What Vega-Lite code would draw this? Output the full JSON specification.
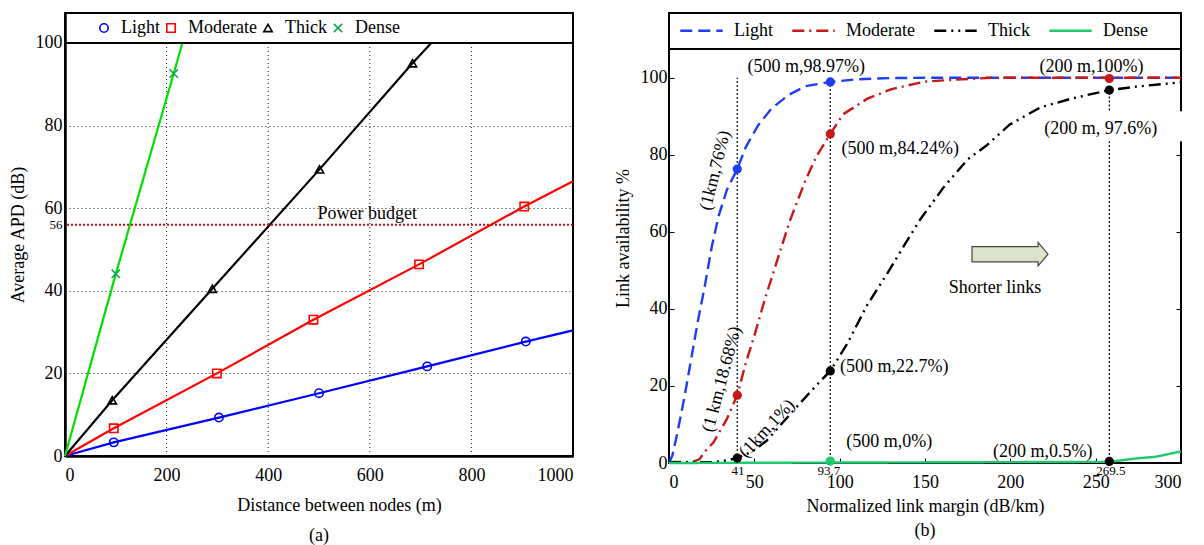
{
  "$schema": "https://vega.github.io/schema/vega-lite/v6.json",
  "padding": {"left": 8, "top": 7, "right": 0, "bottom": 0},
  "bounds": "flush",
  "spacing": 96,
  "resolve": {
    "scale": {"color": "independent", "stroke": "independent", "shape": "independent", "strokeDash": "independent"},
    "legend": {"color": "independent", "stroke": "independent", "shape": "independent", "strokeDash": "independent"}
  },
  "config": {
    "font": "Liberation Serif",
    "view": {"stroke": "black", "strokeWidth": 2},
    "axis": {"labelFont": "Liberation Serif", "labelFontSize": 18, "labelColor": "black", "titleFont": "Liberation Serif", "titleFontSize": 18, "titleFontWeight": "normal", "titleColor": "black", "tickColor": "black", "domainColor": "black", "format": "d"},
    "legend": {"labelFont": "Liberation Serif", "labelFontSize": 18, "labelColor": "black"},
    "title": {"font": "Liberation Serif", "fontSize": 18, "fontWeight": "normal", "color": "black"}
  },
  "datasets": {
    "apd": [
      {"series": "Light", "d": 0, "apd": 0, "m": 0},
      {"series": "Light", "d": 96, "apd": 3.3, "m": 1},
      {"series": "Light", "d": 303, "apd": 9.3, "m": 1},
      {"series": "Light", "d": 500, "apd": 15.2, "m": 1},
      {"series": "Light", "d": 713, "apd": 21.7, "m": 1},
      {"series": "Light", "d": 907, "apd": 27.7, "m": 1},
      {"series": "Light", "d": 1000, "apd": 30.4, "m": 0},
      {"series": "Moderate", "d": 0, "apd": 0, "m": 0},
      {"series": "Moderate", "d": 96, "apd": 6.7, "m": 1},
      {"series": "Moderate", "d": 299, "apd": 20.0, "m": 1},
      {"series": "Moderate", "d": 489, "apd": 33.0, "m": 1},
      {"series": "Moderate", "d": 697, "apd": 46.4, "m": 1},
      {"series": "Moderate", "d": 904, "apd": 60.4, "m": 1},
      {"series": "Moderate", "d": 1000, "apd": 66.5, "m": 0},
      {"series": "Thick", "d": 0, "apd": 0, "m": 0},
      {"series": "Thick", "d": 93, "apd": 13.5, "m": 1},
      {"series": "Thick", "d": 290, "apd": 40.5, "m": 1},
      {"series": "Thick", "d": 501, "apd": 69.4, "m": 1},
      {"series": "Thick", "d": 684, "apd": 95.1, "m": 1},
      {"series": "Thick", "d": 721, "apd": 100, "m": 0},
      {"series": "Dense", "d": 0, "apd": 0, "m": 0},
      {"series": "Dense", "d": 100, "apd": 44.1, "m": 1},
      {"series": "Dense", "d": 214, "apd": 92.6, "m": 1},
      {"series": "Dense", "d": 231, "apd": 100, "m": 0}
    ],
    "xgrid": [{"d": 200}, {"d": 400}, {"d": 600}, {"d": 800}],
    "budget": [{"apd": 56, "d": 595, "ty": 58.7, "label": "Power budget"}],
    "curves": [
      {"series": "Light", "x": 0, "y": 0}, {"series": "Light", "x": 2, "y": 2}, {"series": "Light", "x": 5, "y": 8},
      {"series": "Light", "x": 9, "y": 17}, {"series": "Light", "x": 13, "y": 27}, {"series": "Light", "x": 17, "y": 37},
      {"series": "Light", "x": 21, "y": 46}, {"series": "Light", "x": 25, "y": 56}, {"series": "Light", "x": 29, "y": 64},
      {"series": "Light", "x": 34, "y": 71}, {"series": "Light", "x": 40, "y": 76.3}, {"series": "Light", "x": 45, "y": 82},
      {"series": "Light", "x": 52, "y": 87.5}, {"series": "Light", "x": 60, "y": 92}, {"series": "Light", "x": 70, "y": 95.5},
      {"series": "Light", "x": 80, "y": 97.8}, {"series": "Light", "x": 94.5, "y": 98.9}, {"series": "Light", "x": 110, "y": 99.6},
      {"series": "Light", "x": 130, "y": 99.9}, {"series": "Light", "x": 150, "y": 100}, {"series": "Light", "x": 300, "y": 100},
      {"series": "Moderate", "x": 0, "y": 0.3}, {"series": "Moderate", "x": 14, "y": 0.3}, {"series": "Moderate", "x": 18, "y": 1},
      {"series": "Moderate", "x": 21, "y": 3}, {"series": "Moderate", "x": 26, "y": 5.3}, {"series": "Moderate", "x": 34, "y": 11.5},
      {"series": "Moderate", "x": 40, "y": 17.6}, {"series": "Moderate", "x": 45, "y": 26}, {"series": "Moderate", "x": 50, "y": 33},
      {"series": "Moderate", "x": 56.5, "y": 43}, {"series": "Moderate", "x": 63, "y": 52}, {"series": "Moderate", "x": 70.5, "y": 62.5},
      {"series": "Moderate", "x": 80, "y": 73.4}, {"series": "Moderate", "x": 86.5, "y": 79.7}, {"series": "Moderate", "x": 94.5, "y": 85.4},
      {"series": "Moderate", "x": 102, "y": 90.5}, {"series": "Moderate", "x": 116, "y": 94.5}, {"series": "Moderate", "x": 130, "y": 97},
      {"series": "Moderate", "x": 150, "y": 99}, {"series": "Moderate", "x": 172, "y": 99.6}, {"series": "Moderate", "x": 190, "y": 100},
      {"series": "Moderate", "x": 300, "y": 100},
      {"series": "Thick", "x": 0, "y": 0.2}, {"series": "Thick", "x": 25, "y": 0.2}, {"series": "Thick", "x": 34, "y": 0.7},
      {"series": "Thick", "x": 40, "y": 1.3}, {"series": "Thick", "x": 49, "y": 3}, {"series": "Thick", "x": 57, "y": 5.7},
      {"series": "Thick", "x": 66, "y": 10.2}, {"series": "Thick", "x": 77, "y": 15.6}, {"series": "Thick", "x": 86, "y": 20},
      {"series": "Thick", "x": 94.5, "y": 23.9}, {"series": "Thick", "x": 104.5, "y": 31}, {"series": "Thick", "x": 116, "y": 40.9},
      {"series": "Thick", "x": 129, "y": 50}, {"series": "Thick", "x": 138.5, "y": 57}, {"series": "Thick", "x": 147.5, "y": 63.4},
      {"series": "Thick", "x": 161, "y": 71.6}, {"series": "Thick", "x": 175, "y": 78.8}, {"series": "Thick", "x": 186, "y": 82.4},
      {"series": "Thick", "x": 199.5, "y": 87.8}, {"series": "Thick", "x": 217.6, "y": 92.3}, {"series": "Thick", "x": 236, "y": 94.6},
      {"series": "Thick", "x": 258, "y": 96.8}, {"series": "Thick", "x": 274, "y": 97.7}, {"series": "Thick", "x": 300, "y": 98.8},
      {"series": "Dense", "x": 0, "y": 0}, {"series": "Dense", "x": 258, "y": 0.3}, {"series": "Dense", "x": 274, "y": 1.2},
      {"series": "Dense", "x": 285, "y": 1.6}, {"series": "Dense", "x": 300, "y": 3}
    ],
    "dots": [
      {"series": "Light", "x": 40, "y": 76.3}, {"series": "Light", "x": 94.5, "y": 98.9},
      {"series": "Moderate", "x": 40, "y": 17.6}, {"series": "Moderate", "x": 94.5, "y": 85.4}, {"series": "Moderate", "x": 258, "y": 99.8},
      {"series": "Thick", "x": 40, "y": 1.3}, {"series": "Thick", "x": 94.5, "y": 23.9}, {"series": "Thick", "x": 258, "y": 96.8},
      {"series": "Thick", "x": 258, "y": 0.4}, {"series": "Dense", "x": 94.5, "y": 0.5}
    ],
    "vlines": [
      {"x": 40, "y": 0, "y2": 100}, {"x": 94.5, "y": 0, "y2": 98.9},
      {"x": 258, "y": 0, "y2": 83.5}, {"x": 258, "y": 91.5, "y2": 96.8}
    ],
    "notes": [
      {"x": 80.4, "y": 102.9, "label": "(500 m,98.97%)"},
      {"x": 247.5, "y": 102.9, "label": "(200 m,100%)"},
      {"x": 135.5, "y": 81.4, "label": "(500 m,84.24%)"},
      {"x": 253, "y": 86.8, "label": "(200 m, 97.6%)"},
      {"x": 132, "y": 24.8, "label": "(500 m,22.7%)"},
      {"x": 129, "y": 5.5, "label": "(500 m,0%)"},
      {"x": 219, "y": 2.8, "label": "(200 m,0.5%)"},
      {"x": 191, "y": 45.5, "label": "Shorter links"}
    ],
    "small": [
      {"x": 40.4, "y": -2.2, "label": "41"},
      {"x": 93.7, "y": -2.2, "label": "93.7"},
      {"x": 258.9, "y": -2.2, "label": "269.5"}
    ]
  },
  "hconcat": [
    {
      "width": 508,
      "height": 443,
      "title": {"text": "(a)", "orient": "bottom", "offset": 13, "anchor": "middle", "frame": "group"},
      "layer": [
        {
          "data": {"name": "xgrid"},
          "mark": {"type": "rule", "color": "#222", "strokeWidth": 1, "strokeDash": [1, 3]},
          "encoding": {
            "x": {"field": "d", "type": "quantitative", "scale": {"domain": [0, 1000], "nice": false},
              "axis": {"values": [0, 200, 400, 600, 800, 1000], "grid": false, "ticks": false, "domain": true, "domainWidth": 2.5, "labelPadding": 10, "title": "Distance between nodes (m)", "titlePadding": 12, "titleX": 274}},
            "y": {"datum": 0, "type": "quantitative", "scale": {"domain": [0, 107.26], "nice": false},
              "axis": {"values": [0, 20, 40, 56, 60, 80, 100], "grid": true, "gridDash": [1, 3], "gridColor": "#222", "gridWidth": 1,
                "gridOpacity": {"condition": {"test": "datum.value == 56 || datum.value == 100", "value": 0}, "value": 1},
                "labelFontSize": {"condition": {"test": "datum.value == 56", "value": 13}, "value": 18},
                "ticks": false, "domain": true, "domainWidth": 2.5, "labelPadding": 3, "title": "Average APD (dB)", "titlePadding": 8}},
            "y2": {"datum": 100}
          }
        },
        {
          "data": {"name": "apd"},
          "transform": [{"filter": "datum.series == 'Light'"}],
          "mark": {"type": "line", "strokeWidth": 2.2, "color": "#0000ff"},
          "encoding": {"x": {"field": "d", "type": "quantitative"}, "y": {"field": "apd", "type": "quantitative"}}
        },
        {
          "data": {"name": "apd"},
          "transform": [{"filter": "datum.series == 'Moderate'"}],
          "mark": {"type": "line", "strokeWidth": 2.2, "color": "#ff0000"},
          "encoding": {"x": {"field": "d", "type": "quantitative"}, "y": {"field": "apd", "type": "quantitative"}}
        },
        {
          "data": {"name": "apd"},
          "transform": [{"filter": "datum.series == 'Thick'"}],
          "mark": {"type": "line", "strokeWidth": 2.2, "color": "#000000"},
          "encoding": {"x": {"field": "d", "type": "quantitative"}, "y": {"field": "apd", "type": "quantitative"}}
        },
        {
          "data": {"name": "apd"},
          "transform": [{"filter": "datum.series == 'Dense'"}],
          "mark": {"type": "line", "strokeWidth": 2.2, "color": "#00e000"},
          "encoding": {"x": {"field": "d", "type": "quantitative"}, "y": {"field": "apd", "type": "quantitative"}}
        },
        {
          "data": {"values": [{}]},
          "mark": {"type": "rule", "color": "black", "strokeWidth": 2},
          "encoding": {"y": {"datum": 100, "type": "quantitative"}}
        },
        {
          "data": {"name": "budget"},
          "mark": {"type": "rule", "color": "#d01010", "strokeWidth": 2, "strokeDash": [2, 2]},
          "encoding": {"y": {"field": "apd", "type": "quantitative"}}
        },
        {
          "data": {"name": "budget"},
          "mark": {"type": "text", "fontSize": 18, "align": "center", "baseline": "middle", "color": "black"},
          "encoding": {"x": {"field": "d", "type": "quantitative"}, "y": {"field": "ty", "type": "quantitative"}, "text": {"field": "label"}}
        },
        {
          "data": {"name": "apd"},
          "transform": [{"filter": "datum.m == 1"}],
          "mark": {"type": "point", "filled": false, "strokeWidth": 1.6, "size": 70, "opacity": 1},
          "encoding": {
            "x": {"field": "d", "type": "quantitative"},
            "y": {"field": "apd", "type": "quantitative"},
            "color": {"field": "series", "type": "nominal",
              "scale": {"domain": ["Light", "Moderate", "Thick", "Dense"], "range": ["#0000ff", "#ff0000", "#000000", "#1aa150"]},
              "legend": {"title": null, "orient": "none", "legendX": 30, "legendY": 6, "direction": "horizontal", "columnPadding": 2, "labelOffset": 8, "symbolStrokeWidth": 1.6, "symbolSize": 70, "padding": 0}},
            "shape": {"field": "series", "type": "nominal",
              "scale": {"domain": ["Light", "Moderate", "Thick", "Dense"], "range": ["circle", "square", "triangle-up", "M-1,-1L1,1M-1,1L1,-1"]},
              "legend": {"title": null, "orient": "none", "legendX": 30, "legendY": 6, "direction": "horizontal", "columnPadding": 2, "labelOffset": 8, "symbolStrokeWidth": 1.6, "symbolSize": 70, "padding": 0}}
          }
        }
      ]
    },
    {
      "width": 512,
      "height": 450,
      "title": {"text": "(b)", "orient": "bottom", "offset": 7, "anchor": "middle", "frame": "group"},
      "resolve": {"axis": {"y": "independent"}},
      "layer": [
        {
          "data": {"name": "curves"},
          "mark": {"type": "line", "strokeWidth": 2.4},
          "encoding": {
            "x": {"field": "x", "type": "quantitative", "scale": {"domain": [0, 300], "nice": false},
              "axis": {"values": [0, 50, 100, 150, 200, 250, 300], "grid": false, "tickSize": -5, "ticks": true, "domain": false, "labelPadding": 15, "title": "Normalized link margin (dB/km)", "titlePadding": 6}},
            "y": {"field": "y", "type": "quantitative", "scale": {"domain": [0, 116.8], "nice": false},
              "axis": {"values": [0, 20, 40, 60, 80, 100], "grid": false, "tickSize": -5, "ticks": true, "domain": false, "labelPadding": 7, "title": "Link availability %", "titlePadding": 8}},
            "color": {"field": "series", "type": "nominal",
              "scale": {"domain": ["Light", "Moderate", "Thick", "Dense"], "range": ["#1f3df5", "#c81818", "#000000", "#1ec86e"]},
              "legend": {"title": null, "orient": "none", "legendX": 10, "legendY": -5, "direction": "horizontal", "symbolType": "stroke", "symbolSize": 1800, "symbolStrokeWidth": 2.4, "columnPadding": 14, "labelOffset": 10, "padding": 0}},
            "strokeDash": {"field": "series", "type": "nominal",
              "scale": {"domain": ["Light", "Moderate", "Thick", "Dense"], "range": [[12, 6], [12, 5, 2, 5], [12, 5, 2, 5, 2, 5], [1, 0]]},
              "legend": {"title": null, "orient": "none", "legendX": 10, "legendY": -5, "direction": "horizontal", "symbolType": "stroke", "symbolSize": 1800, "symbolStrokeWidth": 2.4, "columnPadding": 14, "labelOffset": 10, "padding": 0}}
          }
        },
        {
          "data": {"values": [{}]},
          "mark": {"type": "rect", "fill": "white"},
          "encoding": {
            "x": {"datum": 218, "type": "quantitative"}, "x2": {"datum": 303},
            "y": {"datum": 83.5, "type": "quantitative", "axis": null}, "y2": {"datum": 91.3}
          }
        },
        {
          "data": {"values": [{}]},
          "mark": {"type": "rule", "color": "black", "strokeWidth": 1.8},
          "encoding": {"y": {"datum": 107.45, "type": "quantitative", "axis": null}}
        },
        {
          "data": {"name": "vlines"},
          "mark": {"type": "rule", "color": "black", "strokeWidth": 1.2, "strokeDash": [2, 2]},
          "encoding": {
            "x": {"field": "x", "type": "quantitative"},
            "y": {"field": "y", "type": "quantitative", "axis": null},
            "y2": {"field": "y2"}
          }
        },
        {
          "data": {"name": "dots"},
          "mark": {"type": "circle", "size": 85, "opacity": 1},
          "encoding": {
            "x": {"field": "x", "type": "quantitative"},
            "y": {"field": "y", "type": "quantitative", "axis": null},
            "color": {"field": "series", "type": "nominal", "legend": null}
          }
        },
        {
          "data": {"name": "notes"},
          "mark": {"type": "text", "fontSize": 18, "align": "center", "baseline": "middle", "color": "black"},
          "encoding": {
            "x": {"field": "x", "type": "quantitative"},
            "y": {"field": "y", "type": "quantitative", "axis": null},
            "text": {"field": "label"}
          }
        },
        {
          "data": {"values": [{"x": 27.2, "y": 75.9, "label": "(1km,76%)"}]},
          "mark": {"type": "text", "fontSize": 18, "align": "center", "baseline": "middle", "angle": -76, "color": "black"},
          "encoding": {"x": {"field": "x", "type": "quantitative"}, "y": {"field": "y", "type": "quantitative", "axis": null}, "text": {"field": "label"}}
        },
        {
          "data": {"values": [{"x": 31.1, "y": 21.7, "label": "(1 km,18.68%)"}]},
          "mark": {"type": "text", "fontSize": 18, "align": "center", "baseline": "middle", "angle": -75, "color": "black"},
          "encoding": {"x": {"field": "x", "type": "quantitative"}, "y": {"field": "y", "type": "quantitative", "axis": null}, "text": {"field": "label"}}
        },
        {
          "data": {"values": [{"x": 57.5, "y": 8.9, "label": "(1km,1%)"}]},
          "mark": {"type": "text", "fontSize": 18, "align": "center", "baseline": "middle", "angle": -47, "color": "black"},
          "encoding": {"x": {"field": "x", "type": "quantitative"}, "y": {"field": "y", "type": "quantitative", "axis": null}, "text": {"field": "label"}}
        },
        {
          "data": {"name": "small"},
          "mark": {"type": "text", "fontSize": 13, "align": "center", "baseline": "middle", "color": "black"},
          "encoding": {
            "x": {"field": "x", "type": "quantitative"},
            "y": {"field": "y", "type": "quantitative", "axis": null},
            "text": {"field": "label"}
          }
        },
        {
          "data": {"values": [{"x": 199.8, "y": 54.2}]},
          "mark": {"type": "point", "shape": "M-1,-0.2L0.74,-0.2L0.74,-0.31L1,0L0.74,0.31L0.74,0.2L-1,0.2Z", "size": 5776, "filled": true, "fill": "#dde3c8", "stroke": "#444", "strokeWidth": 1.2, "opacity": 1},
          "encoding": {"x": {"field": "x", "type": "quantitative"}, "y": {"field": "y", "type": "quantitative", "axis": null}}
        },
        {
          "data": {"values": [{}]},
          "mark": {"type": "point", "opacity": 0},
          "encoding": {
            "y": {"datum": 0, "type": "quantitative",
              "axis": {"orient": "right", "values": [20, 40, 60, 80, 100], "labels": false, "grid": false, "tickSize": -5, "ticks": true, "domain": false, "title": null}}
          }
        }
      ]
    }
  ]
}
